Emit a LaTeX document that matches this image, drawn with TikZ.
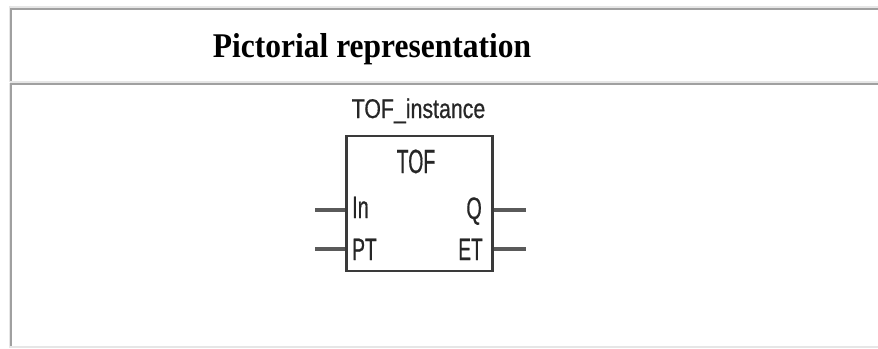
\documentclass[tikz,border=0pt]{standalone}
\usepackage{fontspec}
\setmainfont{Liberation Serif}
\setsansfont{Liberation Sans}
\newfontfamily\blocksans[FakeBold=0.7]{Liberation Sans}
\usepackage{graphicx}
\definecolor{rulelight}{HTML}{E6E6E6}
\definecolor{ruledark}{HTML}{A0A0A0}
\definecolor{ink}{HTML}{262626}
\definecolor{boxline}{HTML}{3A3A3A}
\definecolor{leadline}{HTML}{5A5A5A}
\tikzset{
  lightrule/.style={draw=rulelight, line width=2pt},
  darkrule/.style={draw=ruledark, line width=2.2pt},
  fbbox/.style={draw=boxline, line width=2.6pt, minimum width=146pt, minimum height=135pt, inner sep=0pt},
  fblead/.style={draw=leadline, line width=3.4pt},
  fbtext/.style={inner sep=0pt, text=ink, font=\blocksans},
}
\newcommand{\narrow}[3]{{\fontsize{#1}{#1}\selectfont\scalebox{#2}[1]{#3}}}
\begin{document}
\begin{tikzpicture}[x=1pt,y=-1pt]
  \useasboundingbox[fill=white] (0,0) rectangle (878,348);

  % table frame: light outer edge, darker inner edge
  \draw[lightrule] (9.5,6.5) -- (878,6.5);
  \draw[lightrule] (9.5,5.5) -- (9.5,82);
  \draw[darkrule] (11,9) -- (878,9);
  \draw[darkrule] (11,8) -- (11,81);
  \draw[lightrule] (9.5,82) -- (878,82);
  \draw[darkrule] (11,84) -- (878,84);
  \draw[lightrule] (9.5,83) -- (9.5,348);
  \draw[darkrule] (11,83) -- (11,348);
  \draw[lightrule] (9.5,346.8) -- (878,346.8);

  % header cell
  \node[inner sep=0pt, anchor=base, font=\bfseries\fontsize{31.5}{31.5}\selectfont]
    (title) at (372,57) {\scalebox{1}[1.1]{Pictorial representation}};

  % function block
  \node[fbbox] (tof) at (419.5,203.5) {};
  \node[fbtext, anchor=base] (inst) at (418.5,118) {\narrow{27}{0.79}{TOF\_instance}};
  \node[fbtext, anchor=base] (type) at (416,173) {\narrow{33.5}{0.58}{TOF}};
  \node[fbtext, anchor=base west] (pin) at (352,218) {\narrow{31}{0.64}{In}};
  \node[fbtext, anchor=base west] (ppt) at (352,260) {\narrow{31}{0.62}{PT}};
  \node[fbtext, anchor=base east] (pq) at (482,219) {\narrow{31}{0.64}{Q}};
  \node[fbtext, anchor=base east] (pet) at (483,260) {\narrow{31}{0.62}{ET}};

  % input and output leads
  \coordinate (inEnd) at (315,210);
  \coordinate (ptEnd) at (315,249);
  \coordinate (qEnd) at (526,210);
  \coordinate (etEnd) at (526,249);
  \draw[fblead] (inEnd) -- (inEnd -| tof.west);
  \draw[fblead] (ptEnd) -- (ptEnd -| tof.west);
  \draw[fblead] (tof.east |- qEnd) -- (qEnd);
  \draw[fblead] (tof.east |- etEnd) -- (etEnd);
\end{tikzpicture}
\end{document}
